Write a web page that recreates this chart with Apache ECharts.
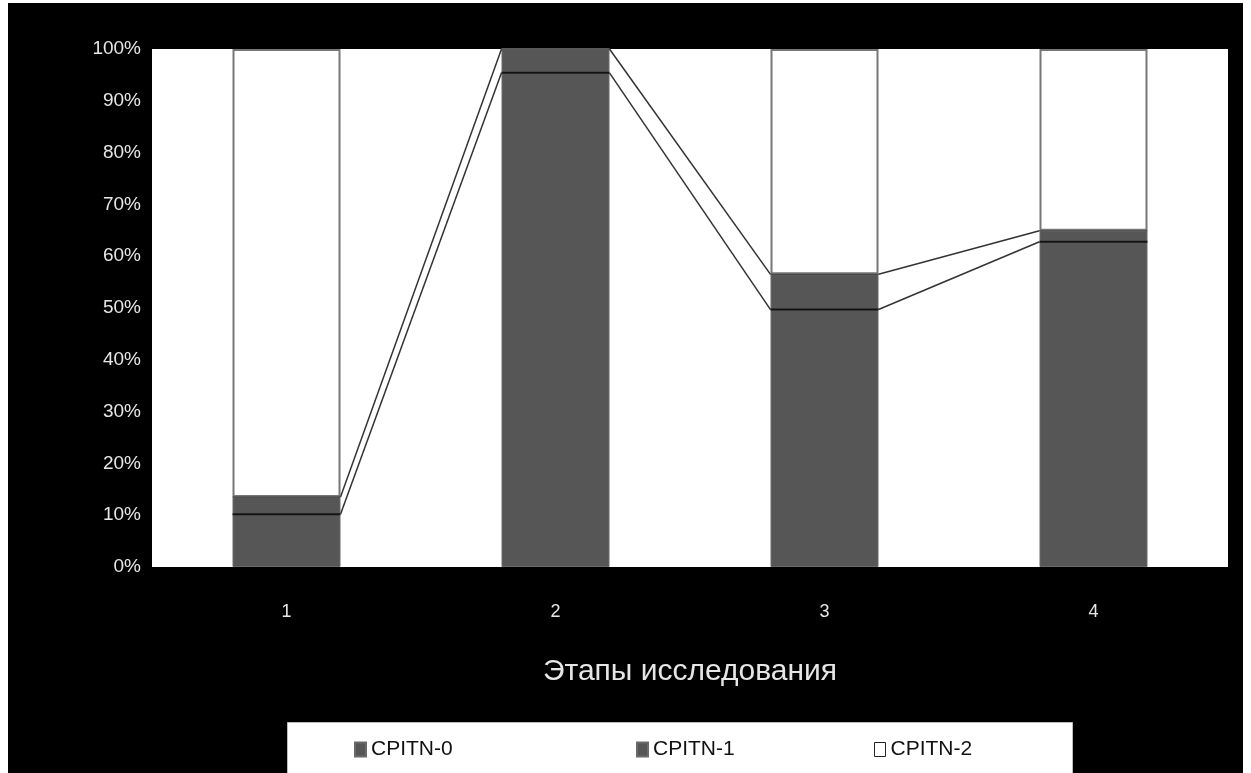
<!DOCTYPE html>
<html>
<head>
<meta charset="utf-8">
<script src="https://cdn.jsdelivr.net/npm/echarts@6/dist/echarts.min.js"></script>
<style>
html,body{margin:0;padding:0;background:#fff;width:1251px;height:773px;overflow:hidden;}
#c{position:absolute;left:8px;top:3px;width:1235px;height:770px;}
</style>
</head>
<body>
<div id="c"></div>
<script>
const categories = ['1', '2', '3', '4'];
const cpitn0 = [10.2, 95.4, 49.7, 62.8];
const cpitn1 = [3.3, 4.6, 6.8, 2.1];
const cpitn2 = [86.5, 0, 43.5, 35.1];
const seriesNames = ['CPITN-0', 'CPITN-1', 'CPITN-2'];
const yTicks = [0, 10, 20, 30, 40, 50, 60, 70, 80, 90, 100];
const axisTitle = 'Этапы исследования';

const BAR_W = 108;
const FONT = '"Liberation Sans", Arial, sans-serif';

// cumulative levels for the series lines
const level0 = cpitn0.slice();
const level1 = cpitn0.map((v, i) => v + cpitn1[i]);
const lineData = categories.map((c, i) => [
  i, level0[i], level1[i],
  i + 1 < categories.length ? level0[i + 1] : null,
  i + 1 < categories.length ? level1[i + 1] : null
]);

const chart = echarts.init(document.getElementById('c'), null, {renderer: 'canvas'});

function renderSeriesLines(params, api) {
  const i = api.value(0);
  const children = [];
  const half = BAR_W / 2;
  [[1, 3], [2, 4]].forEach(([cur, nxt]) => {
    const p = api.coord([i, api.value(cur)]);
    children.push({
      type: 'line',
      shape: {x1: p[0] - half, y1: p[1], x2: p[0] + half, y2: p[1]},
      style: {stroke: cur === 1 ? '#111' : '#3a3a3a', lineWidth: cur === 1 ? 2 : 1}
    });
    if (i + 1 < categories.length) {
      const q = api.coord([i + 1, api.value(nxt)]);
      children.push({
        type: 'line',
        shape: {x1: p[0] + half, y1: p[1], x2: q[0] - half, y2: q[1]},
        style: {stroke: '#333', lineWidth: 1.5}
      });
    }
  });
  return {type: 'group', children};
}

const legendBase = {
  orient: 'horizontal',
  top: 731,
  icon: 'rect',
  itemWidth: 11,
  itemHeight: 14,
  itemGap: 4,
  textStyle: {color: '#111', fontSize: 21, fontFamily: FONT}
};

chart.setOption({
  backgroundColor: '#000',
  animation: false,
  grid: {left: 144, right: 15, top: 46, bottom: 206, show: true, backgroundColor: '#fff', borderWidth: 0},
  graphic: [{
    type: 'rect', left: 279, top: 719, z: -1,
    shape: {width: 785, height: 60},
    style: {fill: '#fff', stroke: '#bbb', lineWidth: 1}
  }],
  legend: [
    Object.assign({}, legendBase, {left: 341, data: [seriesNames[0]]}),
    Object.assign({}, legendBase, {left: 623, data: [seriesNames[1]]}),
    Object.assign({}, legendBase, {left: 861, data: [{name: seriesNames[2], itemStyle: {color: '#fff', borderColor: '#222', borderWidth: 1}}]})
  ],
  xAxis: {
    type: 'category',
    data: categories,
    axisLine: {show: false},
    axisTick: {show: false},
    axisLabel: {color: '#e6e6e6', fontSize: 18, fontFamily: FONT, margin: 36},
    name: axisTitle,
    nameLocation: 'middle',
    nameGap: 90,
    nameTextStyle: {color: '#e6e6e6', fontSize: 30, fontFamily: FONT}
  },
  yAxis: {
    type: 'value',
    min: yTicks[0],
    max: yTicks[yTicks.length - 1],
    interval: 10,
    axisLine: {show: false},
    axisTick: {show: false},
    splitLine: {show: false},
    axisLabel: {color: '#e6e6e6', fontSize: 19, fontFamily: FONT, margin: 11, formatter: '{value}%'}
  },
  series: [
    {name: seriesNames[0], type: 'bar', stack: 's', barWidth: BAR_W, data: cpitn0,
     itemStyle: {color: '#565656', borderColor: '#6a6a6a', borderWidth: 1}},
    {name: seriesNames[1], type: 'bar', stack: 's', barWidth: BAR_W, data: cpitn1,
     itemStyle: {color: '#565656', borderColor: '#6a6a6a', borderWidth: 1}},
    {name: seriesNames[2], type: 'bar', stack: 's', barWidth: BAR_W, data: cpitn2,
     itemStyle: {color: '#fff', borderColor: '#777', borderWidth: 2}},
    {type: 'custom', renderItem: renderSeriesLines, data: lineData, z: 5, silent: true,
     encode: {x: 0, y: [1, 2]}}
  ]
});
</script>
</body>
</html>
